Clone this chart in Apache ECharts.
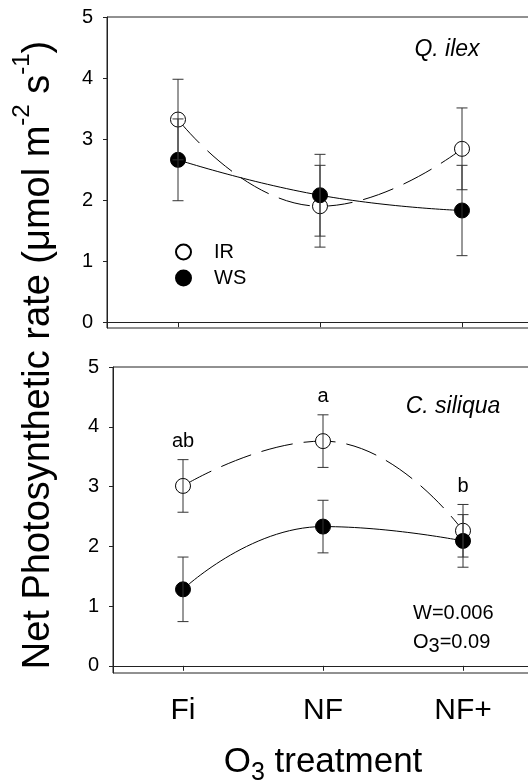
<!DOCTYPE html>
<html><head><meta charset="utf-8">
<script src="https://cdn.jsdelivr.net/npm/echarts@6/dist/echarts.min.js"></script>
<style>html,body{margin:0;padding:0;background:#fff}#c{width:528px;height:780px}</style>
</head><body><div id="c"></div>
<script>
// ---- data ----
const categories = ['Fi', 'NF', 'NF+'];
const yTicks = [0, 1, 2, 3, 4, 5];
// Q. ilex (top panel)
const ilexIR = [3.32, 1.90, 2.84];
const ilexIRerr = [0.66, 0.67, 0.67];
const ilexWS = [2.66, 2.08, 1.83];
const ilexWSerr = [0.67, 0.67, 0.74];
// C. siliqua (bottom panel)
const siliquaIR = [3.01, 3.76, 2.26];
const siliquaIRerr = [0.44, 0.44, 0.44];
const siliquaWS = [1.28, 2.33, 2.09];
const siliquaWSerr = [0.54, 0.44, 0.44];
const siliquaLetters = ['ab', 'a', 'b'];

const FF = 'Liberation Sans, Arial, Helvetica, sans-serif';
const AX = '#222';

function errSeries(name, gi, means, errs, letters) {
  return {
    type: 'custom', name: name, xAxisIndex: gi, yAxisIndex: gi, z: 4, silent: true,
    data: means.map((m, i) => [i, m - errs[i], m + errs[i]]),
    renderItem: function (params, api) {
      const x = api.value(0);
      const lo = api.coord([x, api.value(1)]);
      const hi = api.coord([x, api.value(2)]);
      const w = 5.5;
      const st = { stroke: '#333', lineWidth: 1 };
      const ch = [
        { type: 'line', shape: { x1: lo[0], y1: lo[1], x2: hi[0], y2: hi[1] }, style: st },
        { type: 'line', shape: { x1: lo[0] - w, y1: lo[1], x2: lo[0] + w, y2: lo[1] }, style: st },
        { type: 'line', shape: { x1: hi[0] - w, y1: hi[1], x2: hi[0] + w, y2: hi[1] }, style: st }
      ];
      if (letters) {
        ch.push({ type: 'text', x: hi[0], y: hi[1] - 18,
          style: { text: letters[params.dataIndex], textAlign: 'center', textVerticalAlign: 'middle',
                   fontSize: 20, fontFamily: FF, fill: '#000' } });
      }
      return { type: 'group', children: ch };
    }
  };
}

function lineSeries(name, gi, vals, open) {
  return {
    type: 'line', name: name, xAxisIndex: gi, yAxisIndex: gi, data: vals,
    smooth: 0.5, symbol: 'circle', symbolSize: 15, z: 2,
    itemStyle: open ? { color: '#fff', borderColor: '#000', borderWidth: 1 }
                    : { color: '#000', borderColor: '#000', borderWidth: 1 },
    lineStyle: { color: '#000', width: 1, type: open ? [32, 11] : 'solid' },
    emphasis: { disabled: true }
  };
}

function yAx(gi, min) {
  return {
    gridIndex: gi, type: 'value', min: min, max: 5,
    axisLine: { show: true, lineStyle: { color: AX, width: 1 } },
    axisTick: { show: true, customValues: yTicks, length: 4, inside: false, lineStyle: { color: AX } },
    axisLabel: { customValues: yTicks, fontSize: 20, color: '#000', margin: 14, fontFamily: FF },
    splitLine: { show: false }
  };
}
function xAx(gi, showLabel) {
  return {
    gridIndex: gi, type: 'category', data: categories, boundaryGap: true,
    axisLine: { show: true, lineStyle: { color: AX, width: 1 } },
    axisTick: { show: true, alignWithLabel: true, length: 5, lineStyle: { color: AX } },
    axisLabel: { show: showLabel, fontSize: 30, color: '#000', margin: 23, fontFamily: FF },
    splitLine: { show: false }
  };
}

const chart = echarts.init(document.getElementById('c'), null, { renderer: 'canvas' });
chart.setOption({
  animation: false,
  backgroundColor: '#fff',
  textStyle: { fontFamily: FF },
  grid: [
    { left: 107, width: 426, top: 17, height: 311, show: true, borderColor: AX, borderWidth: 1, containLabel: false, outerBoundsMode: 'none' },
    { left: 113, width: 420, top: 367, height: 306, show: true, borderColor: AX, borderWidth: 1, containLabel: false, outerBoundsMode: 'none' }
  ],
  xAxis: [xAx(0, false), xAx(1, true)],
  yAxis: [yAx(0, -0.095), yAx(1, -0.12)],
  legend: {
    data: ['IR', 'WS'], orient: 'vertical', left: 170, top: 237, icon: 'circle',
    itemWidth: 15, itemHeight: 15, itemGap: 6, selectedMode: false,
    textStyle: { fontSize: 20, color: '#000', fontFamily: FF, padding: [0, 0, 0, 18] }
  },
  series: [
    lineSeries('IR', 0, ilexIR, true),
    lineSeries('WS', 0, ilexWS, false),
    lineSeries('IR', 1, siliquaIR, true),
    lineSeries('WS', 1, siliquaWS, false),
    errSeries('IR err', 0, ilexIR, ilexIRerr),
    errSeries('WS err', 0, ilexWS, ilexWSerr),
    errSeries('IR err', 1, siliquaIR, siliquaIRerr, siliquaLetters),
    errSeries('WS err', 1, siliquaWS, siliquaWSerr)
  ],
  graphic: [
    { type: 'text', x: 447, y: 50, style: { text: 'Q. ilex', fontSize: 23, fontStyle: 'italic', fontFamily: FF, fill: '#000', textAlign: 'center', textVerticalAlign: 'middle' } },
    { type: 'text', x: 453, y: 407, style: { text: 'C. siliqua', fontSize: 23, fontStyle: 'italic', fontFamily: FF, fill: '#000', textAlign: 'center', textVerticalAlign: 'middle' } },
    { type: 'text', x: 413, y: 613, style: { text: 'W=0.006', fontSize: 20, fontFamily: FF, fill: '#000', textAlign: 'left', textVerticalAlign: 'middle' } },
    { type: 'text', x: 413, y: 644, style: {
        text: '{m|O}{s|3}{m|=0.09}', textAlign: 'left', textVerticalAlign: 'middle',
        rich: {
          m: { fontSize: 20, lineHeight: 24, verticalAlign: 'top', fontFamily: FF, fill: '#000' },
          s: { fontSize: 20, lineHeight: 20, verticalAlign: 'bottom', fontFamily: FF, fill: '#000' }
        } } },
    { type: 'text', x: 323, y: 765, style: {
        text: '{m|O}{s|3}{m| treatment}', textAlign: 'center', textVerticalAlign: 'middle',
        rich: {
          m: { fontSize: 35, lineHeight: 41, verticalAlign: 'top', fontFamily: FF, fill: '#000' },
          s: { fontSize: 25, lineHeight: 25, verticalAlign: 'bottom', fontFamily: FF, fill: '#000' }
        } } },
    { type: 'text', x: 34, y: 355, rotation: Math.PI / 2, style: {
        text: '{m|Net Photosynthetic rate (\u03bcmol m}{s|-2}{m| s}{s|-1}{m|)}', textAlign: 'center', textVerticalAlign: 'middle',
        rich: {
          m: { fontSize: 38, lineHeight: 48, verticalAlign: 'bottom', fontFamily: FF, fill: '#000' },
          s: { fontSize: 24, lineHeight: 24, verticalAlign: 'top', fontFamily: FF, fill: '#000' }
        } } }
  ]
});
</script>
</body></html>
